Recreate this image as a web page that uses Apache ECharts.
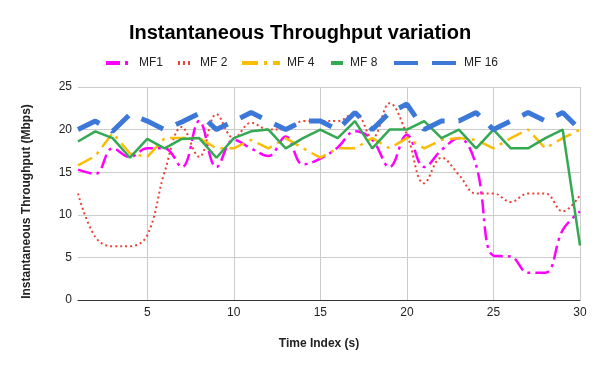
<!DOCTYPE html>
<html>
<head>
<meta charset="utf-8">
<script src="https://cdn.jsdelivr.net/npm/echarts@6/dist/echarts.min.js"></script>
<style>
  html, body { margin: 0; padding: 0; background: #fff; }
  #chart { width: 600px; height: 371px; }
</style>
</head>
<body>
<div id="chart"></div>
<script>
// time index 1..30
var timeIndex = [1,2,3,4,5,6,7,8,9,10,11,12,13,14,15,16,17,18,19,20,21,22,23,24,25,26,27,28,29,30];
var xTicks = [5, 10, 15, 20, 25, 30];

var mf1 = [15.3,14.8,17.8,16.8,17.8,17.8,15.6,21,15.6,18.8,17.8,16.9,19.2,15.9,16.6,17.9,19.8,18.8,15.6,19.4,15.6,17.6,19,15.8,5.2,5.1,3.2,3.2,8.2,10.4];
var mf2 = [12.5,7.4,6.3,6.3,7.6,15,20.3,16.8,21.8,19,20.8,20,20,21,21,21,22,19,23.1,19.4,13.7,16.7,14.7,12.5,12.5,11.5,12.5,12.5,10.4,12.3];
var mf4 = [15.8,16.9,19.6,17.2,16.8,19,19,19,17.8,17.8,18.8,17.8,19,17.8,16.7,17.8,17.8,19,17.8,19,17.8,18.8,19,18.8,17.8,19,20,17.8,19,20];
var mf8 = [18.6,19.8,19,16.7,18.9,17.8,18.9,19,16.7,19,19.8,20,17.8,19,20,19,21,17.8,20,20,21,19,20,17.8,20,17.8,17.8,19,20,6.4];
var mf16 = [20,21,19.8,21.8,21,20,20.9,21.9,20,21,22,21,20,21,21,20,22,20,22,23,20,21,21,22,20,21,22,21,22,20];

function pairs(vals) {
    return timeIndex.map(function (t, i) { return [t, vals[i]]; });
}

var font = 'Liberation Sans, Arial, sans-serif';

// one legend per series so each icon can have its own width
function legendFor(name, left, w) {
    return {
        data: [name],
        left: left,
        top: 57,
        padding: 0,
        itemWidth: w,
        itemHeight: 14,
        itemGap: 0,
        itemStyle: { opacity: 0 },
        lineStyle: { width: 4 },
        textStyle: { fontFamily: font, fontSize: 12, color: '#222', padding: [0, 0, 0, 2] }
    };
}

var myChart = echarts.init(document.getElementById('chart'));
var option = {
    animation: false,
    title: {
        text: 'Instantaneous Throughput variation',
        left: 'center',
        top: 18,
        textStyle: { fontFamily: font, fontSize: 20, fontWeight: 'bold', color: '#000' }
    },
    legend: [
        legendFor('MF1', 104, 26),
        legendFor('MF 2', 176, 15),
        legendFor('MF 4', 240, 38),
        legendFor('MF 8', 329, 12),
        legendFor('MF 16', 392, 63)
    ],
    grid: { left: 78, right: 20, top: 87, bottom: 71 },
    xAxis: {
        type: 'value',
        min: 1,
        max: 30,
        name: 'Time Index (s)',
        nameLocation: 'middle',
        nameGap: 38,
        nameTextStyle: { fontFamily: font, fontSize: 12, fontWeight: 'bold', color: '#222', padding: [0, 20, 0, 0] },
        axisLine: { lineStyle: { color: '#333', width: 1 } },
        axisTick: { show: false, customValues: xTicks },
        axisLabel: { customValues: xTicks, fontFamily: font, fontSize: 12, color: '#222', margin: 7 },
        splitLine: { show: true, lineStyle: { color: '#ccc' } }
    },
    yAxis: {
        type: 'value',
        min: 0,
        max: 25,
        interval: 5,
        name: 'Instantaneous Throughput (Mbps)',
        nameLocation: 'middle',
        nameGap: 45,
        nameRotate: 90,
        nameTextStyle: { fontFamily: font, fontSize: 12, fontWeight: 'bold', color: '#222', padding: [0, 16, 0, 0] },
        axisLine: { show: false },
        axisTick: { show: false },
        axisLabel: { fontFamily: font, fontSize: 12, color: '#222', margin: 6 },
        splitLine: { lineStyle: { color: '#ccc' } }
    },
    series: [
        {
            name: 'MF1', type: 'line', data: pairs(mf1), symbol: 'none', smooth: 0.4,
            itemStyle: { color: '#ff00ff' },
            lineStyle: { color: '#ff00ff', width: 2.5, type: [14, 5, 3, 5] }
        },
        {
            name: 'MF 2', type: 'line', data: pairs(mf2), symbol: 'none', smooth: 0.4,
            itemStyle: { color: '#ea4335' },
            lineStyle: { color: '#ea4335', width: 2, type: [2, 3] }
        },
        {
            name: 'MF 4', type: 'line', data: pairs(mf4), symbol: 'none',
            itemStyle: { color: '#fbbc04' },
            lineStyle: { color: '#fbbc04', width: 2.5, type: [16, 6, 3, 6] }
        },
        {
            name: 'MF 8', type: 'line', data: pairs(mf8), symbol: 'none',
            itemStyle: { color: '#34a853' },
            lineStyle: { color: '#34a853', width: 2.5 }
        },
        {
            name: 'MF 16', type: 'line', data: pairs(mf16), symbol: 'none',
            itemStyle: { color: '#3c78d8' },
            lineStyle: { color: '#3c78d8', width: 5, type: [24, 14] }
        }
    ]
};
myChart.setOption(option);
</script>
</body>
</html>
